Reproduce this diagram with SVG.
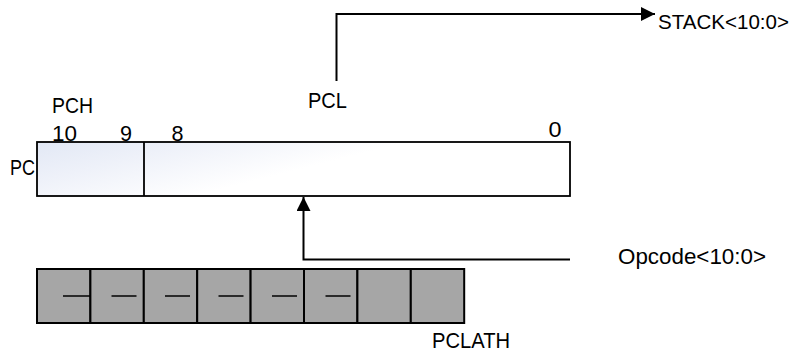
<svg xmlns="http://www.w3.org/2000/svg" width="795" height="356" viewBox="0 0 795 356">
  <defs>
    <linearGradient id="pcfill" x1="0" y1="0" x2="1" y2="0.4">
      <stop offset="0" stop-color="#e2e8f5"/>
      <stop offset="0.25" stop-color="#eef1f9"/>
      <stop offset="0.6" stop-color="#ffffff"/>
      <stop offset="1" stop-color="#ffffff"/>
    </linearGradient>
    <marker id="arr" viewBox="0 0 14 14" refX="14" refY="7" markerWidth="14" markerHeight="14" markerUnits="userSpaceOnUse" orient="auto">
      <path d="M0,0 L14,7 L0,14 Z" fill="#000"/>
    </marker>
  </defs>
  <style>
    text { font-family: "Liberation Sans", Arial, sans-serif; font-size: 22.5px; fill: #000; }
    .box { stroke: #000; stroke-width: 1.8; }
    .cell { fill: #a6a6a6; stroke: #000; stroke-width: 2; }
    .dash { stroke: #000; stroke-width: 1.5; }
    .conn { fill: none; stroke: #000; stroke-width: 2; }
  </style>

  <g id="pc">
    <rect class="box" x="37" y="142" width="533" height="54" fill="url(#pcfill)"/>
    <line class="box" x1="144" y1="142" x2="144" y2="196"/>
    <text x="10" y="175" textLength="25" lengthAdjust="spacingAndGlyphs">PC</text>
    <text x="52" y="113" textLength="41" lengthAdjust="spacingAndGlyphs">PCH</text>
    <text x="52" y="141" textLength="25" lengthAdjust="spacingAndGlyphs">10</text>
    <text x="120" y="141" textLength="12" lengthAdjust="spacingAndGlyphs">9</text>
    <text x="171.5" y="141" textLength="12" lengthAdjust="spacingAndGlyphs">8</text>
    <text x="548.5" y="137" textLength="13" lengthAdjust="spacingAndGlyphs">0</text>
  </g>

  <g id="pcl">
    <text x="308" y="108" textLength="39" lengthAdjust="spacingAndGlyphs">PCL</text>
  </g>

  <g id="stack">
    <text x="658" y="29" style="font-size:21px" textLength="131" lengthAdjust="spacingAndGlyphs">STACK&lt;10:0&gt;</text>
  </g>

  <g id="opcode">
    <text x="618" y="264" textLength="148" lengthAdjust="spacingAndGlyphs">Opcode&lt;10:0&gt;</text>
  </g>

  <g id="pclath">
    <rect class="cell" x="37" y="269" width="53.4" height="54"/>
    <rect class="cell" x="90.4" y="269" width="53.4" height="54"/>
    <rect class="cell" x="143.8" y="269" width="53.4" height="54"/>
    <rect class="cell" x="197.2" y="269" width="53.4" height="54"/>
    <rect class="cell" x="250.6" y="269" width="53.4" height="54"/>
    <rect class="cell" x="304" y="269" width="53.4" height="54"/>
    <rect class="cell" x="357.4" y="269" width="53.4" height="54"/>
    <rect class="cell" x="410.8" y="269" width="53.4" height="54"/>
    <line class="dash" x1="63" y1="296" x2="90.4" y2="296"/>
    <line class="dash" x1="111.5" y1="296" x2="136.5" y2="296"/>
    <line class="dash" x1="165" y1="296" x2="190" y2="296"/>
    <line class="dash" x1="218.5" y1="296" x2="243.5" y2="296"/>
    <line class="dash" x1="272" y1="296" x2="297" y2="296"/>
    <line class="dash" x1="325.5" y1="296" x2="350.5" y2="296"/>
    <text x="432" y="348" textLength="78" lengthAdjust="spacingAndGlyphs">PCLATH</text>
  </g>

  <g id="connectors">
    <path class="conn" d="M336.5,81 V14 H655" marker-end="url(#arr)"/>
    <path class="conn" d="M570,259.5 H303.5 V197" marker-end="url(#arr)"/>
  </g>
</svg>
